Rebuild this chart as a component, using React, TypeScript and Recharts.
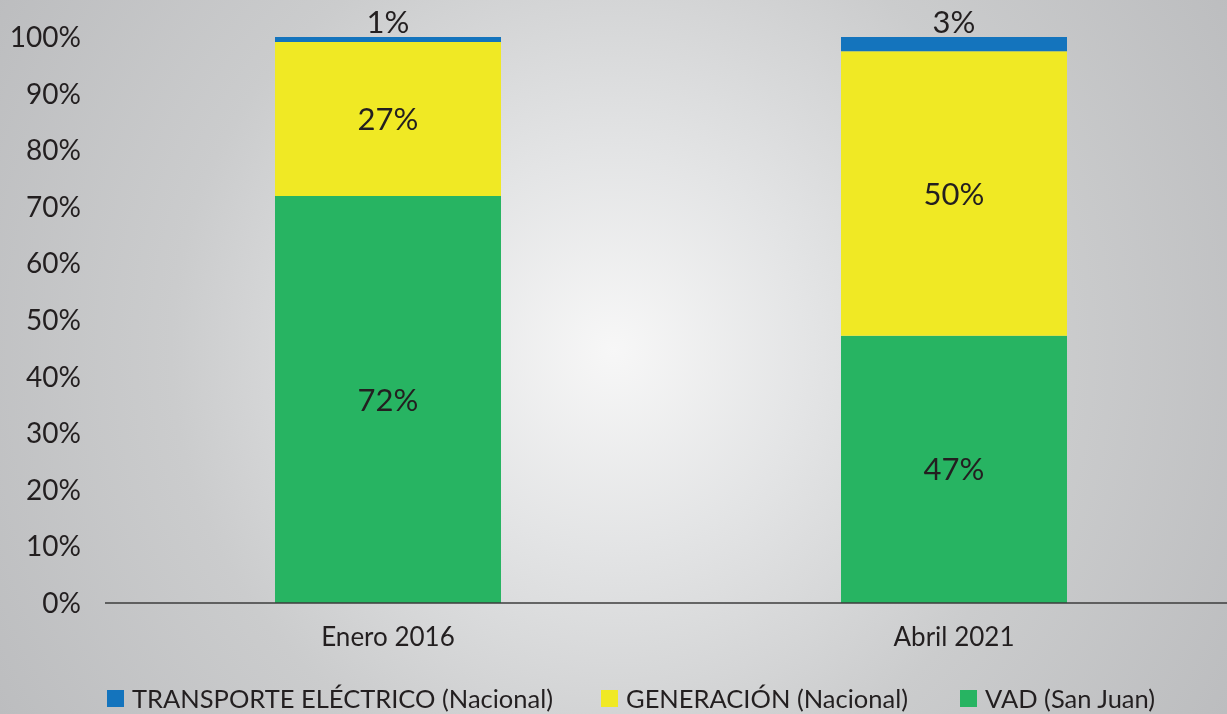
import React from 'react'
import { BarChart, Bar, XAxis, YAxis, Legend, LabelList } from 'recharts'

const categories = ['Enero 2016', 'Abril 2021']
const vad = [71.9, 47.2]
const generacion = [27.2, 50.3]
const transporte = [0.9, 2.5]
const yTicks = [0, 10, 20, 30, 40, 50, 60, 70, 80, 90, 100]

const series = [
  { key: 'transporte', name: 'TRANSPORTE ELÉCTRICO (Nacional)', color: '#1474bd' },
  { key: 'generacion', name: 'GENERACIÓN (Nacional)', color: '#f0e924' },
  { key: 'vad', name: 'VAD (San Juan)', color: '#27b462' },
]

const data = categories.map((c, i) => ({
  name: c,
  vad: vad[i],
  generacion: generacion[i],
  transporte: transporte[i],
}))

const FONT = 'Lato, "Open Sans", sans-serif'
const TEXT = '#231f20'

const pct = (v: any) => `${Math.round(Number(v))}%`

const legendWidths = [494, 359, 260]

function LegendContent() {
  return (
    <div style={{ display: 'flex', paddingLeft: 107, height: 32, alignItems: 'center', fontFamily: FONT }}>
      {series.map((s, i) => (
        <div key={s.key} style={{ width: legendWidths[i], display: 'flex', alignItems: 'center' }}>
          <span style={{ width: 17, height: 17, background: s.color, marginRight: 8, display: 'inline-block' }} />
          <span style={{ fontSize: 25.5, color: TEXT, whiteSpace: 'nowrap' }}>{s.name}</span>
        </div>
      ))}
    </div>
  )
}

export default function App() {
  return (
    <div
      style={{
        position: 'fixed',
        left: 0,
        top: 0,
        width: 1227,
        height: 714,
        overflow: 'hidden',
        background:
          'radial-gradient(circle at 50% 49%, #f7f7f7 0%, #e3e4e5 28%, #cbcccd 62%, #bcbdbf 100%)',
      }}
    >
      <BarChart
        width={1240}
        height={714}
        data={data}
        margin={{ top: 37, right: 3, left: 0, bottom: 0 }}
        style={{ fontFamily: FONT }}
      >
        <YAxis
          domain={[0, 100]}
          ticks={yTicks}
          tickFormatter={(v) => `${v}%`}
          axisLine={false}
          tickLine={false}
          tickSize={0}
          tickMargin={24}
          width={105}
          interval={0}
          tick={{ fontSize: 28, fill: TEXT }}
        />
        <XAxis
          dataKey="name"
          axisLine={{ stroke: '#3c3c3c', strokeWidth: 1.5 }}
          tickLine={false}
          tickSize={0}
          tickMargin={25}
          height={79}
          tick={{ fontSize: 26, fill: TEXT }}
        />
        <Legend verticalAlign="bottom" content={() => <LegendContent />} wrapperStyle={{ left: 0, width: 1240, height: 32 }} />
        <Bar dataKey="vad" stackId="a" fill="#27b462" barSize={226} isAnimationActive={false}>
          <LabelList dataKey="vad" position="center" formatter={pct} fill={TEXT} fontSize={31} fontFamily={FONT} />
        </Bar>
        <Bar dataKey="generacion" stackId="a" fill="#f0e924" barSize={226} isAnimationActive={false}>
          <LabelList dataKey="generacion" position="center" formatter={pct} fill={TEXT} fontSize={31} fontFamily={FONT} />
        </Bar>
        <Bar dataKey="transporte" stackId="a" fill="#1474bd" barSize={226} isAnimationActive={false}>
          <LabelList dataKey="transporte" position="top" offset={4} formatter={pct} fill={TEXT} fontSize={31} fontFamily={FONT} />
        </Bar>
      </BarChart>
    </div>
  )
}
